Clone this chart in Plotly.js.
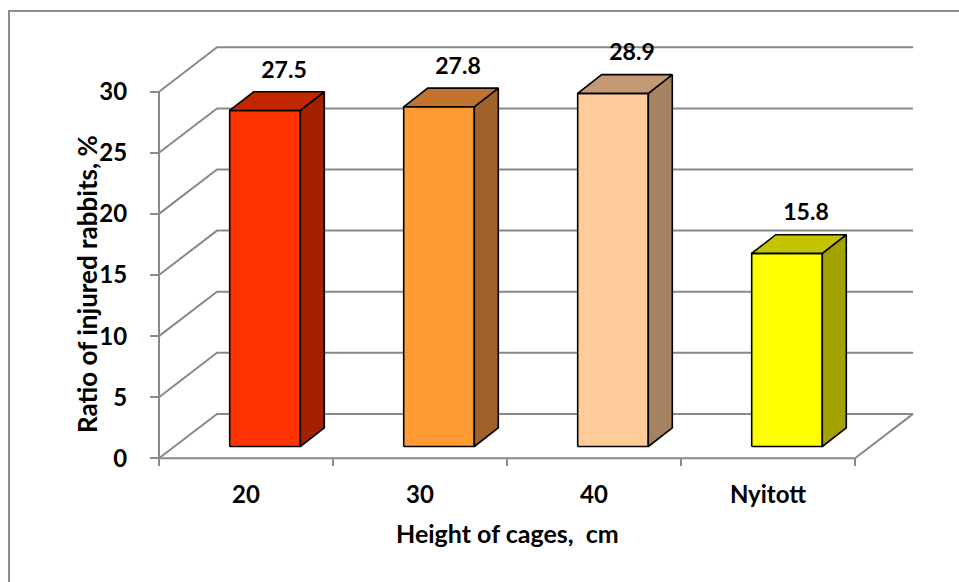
<!DOCTYPE html>
<html>
<head>
<meta charset="utf-8">
<script src="https://cdn.plot.ly/plotly-3.0.1.min.js"></script>
<style>
  html, body { margin: 0; padding: 0; background: #ffffff; }
  #chart { width: 959px; height: 582px; }
</style>
</head>
<body>
<div id="chart"></div>
<script>
// ---- data ----
const categories = ['20', '30', '40', 'Nyitott'];
const injuredPct = [27.5, 27.8, 28.9, 15.8];
const yTickValues = [0, 5, 10, 15, 20, 25, 30];

// ---- colours per bar: front, top, side ----
const frontColors = ['#FF3300', '#FF9933', '#FFCC99', '#FFFF00'];
const topColors   = ['#C22800', '#C27330', '#C49A74', '#C4C400'];
const sideColors  = ['#A32000', '#A1622A', '#A58262', '#A3A300'];

// ---- page / projection geometry ----
const W = 959, H = 582;
const ORIGIN_PX = 159;      // pixel x of the front-left corner of the floor
const ORIGIN_PY = 458.3;    // pixel y of value 0 on the front plane
const PX_PER_CAT = 174;     // pixels per category slot
const PX_PER_UNIT = 12.22;  // pixels per percentage point

// oblique depth of the walls and of the columns, in axis units
const WALL_DX = 58 / PX_PER_CAT,  WALL_DY = 44.4 / PX_PER_UNIT;
const BAR_HW  = 35.3 / PX_PER_CAT;
const BAR_OX  = 19 / PX_PER_CAT,  BAR_OY  = 11.8 / PX_PER_UNIT;
const BAR_DX  = 24 / PX_PER_CAT,  BAR_DY  = 18.7 / PX_PER_UNIT;
const LABEL_DX = 38 / PX_PER_CAT, LABEL_DY = BAR_OY + BAR_DY + 20 / PX_PER_UNIT;

const xRange = [-0.5 - ORIGIN_PX / PX_PER_CAT, -0.5 + (W - ORIGIN_PX) / PX_PER_CAT];
const yRange = [-(H - ORIGIN_PY) / PX_PER_UNIT, ORIGIN_PY / PX_PER_UNIT];

const n = categories.length;
const left = -0.5, right = n - 0.5;
const yMax = yTickValues[yTickValues.length - 1];

const GRID = '#898989';
const FONT = 'Lato, "Open Sans", sans-serif';

const traces = [];

// back and side wall gridlines
(function () {
  const gx = [], gy = [];
  yTickValues.forEach(v => {
    gx.push(left, left + WALL_DX, right + WALL_DX, null);
    gy.push(v, v + WALL_DY, v + WALL_DY, null);
  });
  traces.push({ type: 'scatter', mode: 'lines', x: gx, y: gy,
    line: { color: GRID, width: 2 }, hoverinfo: 'skip', showlegend: false });
})();

// floor front edge + right edge, and the vertical value axis
traces.push({ type: 'scatter', mode: 'lines',
  x: [left, right, right + WALL_DX], y: [0, 0, WALL_DY],
  line: { color: GRID, width: 2 }, hoverinfo: 'skip', showlegend: false });
traces.push({ type: 'scatter', mode: 'lines',
  x: [left, left], y: [0, yMax],
  line: { color: GRID, width: 2 }, hoverinfo: 'skip', showlegend: false });

// one face of a column as a filled polygon
function face(xs, ys, color) {
  return { type: 'scatter', mode: 'lines', x: xs.concat([xs[0]]), y: ys.concat([ys[0]]),
    fill: 'toself', fillcolor: color, line: { color: '#000000', width: 1.6 },
    hoverinfo: 'skip', showlegend: false };
}

injuredPct.forEach((v, i) => {
  const x0 = i + BAR_OX - BAR_HW, x1 = i + BAR_OX + BAR_HW;
  const yb = BAR_OY, yt = BAR_OY + v;
  traces.push(face([x0, x1, x1, x0], [yb, yb, yt, yt], frontColors[i]));
  traces.push(face([x1, x1 + BAR_DX, x1 + BAR_DX, x1], [yb, yb + BAR_DY, yt + BAR_DY, yt], sideColors[i]));
  traces.push(face([x0, x1, x1 + BAR_DX, x0 + BAR_DX], [yt, yt, yt + BAR_DY, yt + BAR_DY], topColors[i]));
});

// value labels above each column
traces.push({ type: 'scatter', mode: 'text',
  x: injuredPct.map((v, i) => i + LABEL_DX),
  y: injuredPct.map(v => v + LABEL_DY),
  text: injuredPct.map(v => v.toFixed(1)),
  textposition: 'middle center',
  textfont: { family: FONT, size: 23, weight: 700, color: '#000000' },
  cliponaxis: false, hoverinfo: 'skip', showlegend: false });

const layout = {
  width: W, height: H,
  margin: { l: 0, r: 0, t: 0, b: 0, pad: 0 },
  paper_bgcolor: '#ffffff', plot_bgcolor: 'rgba(0,0,0,0)',
  showlegend: false,
  xaxis: {
    range: xRange, domain: [0, 1], anchor: 'free', position: (H - ORIGIN_PY) / H,
    tickmode: 'array', tickvals: categories.map((c, i) => i), ticktext: categories,
    ticks: '', ticklabelstandoff: 20,
    tickfont: { family: FONT, size: 24, weight: 700, color: '#000000' },
    minor: { tickmode: 'array', tickvals: categories.map((c, i) => i - 0.5).concat([right]),
             ticks: 'outside', ticklen: 7, tickwidth: 2, tickcolor: GRID, showgrid: false },
    showline: false, showgrid: false, zeroline: false, fixedrange: true
  },
  yaxis: {
    range: yRange, domain: [0, 1], anchor: 'free', position: ORIGIN_PX / W,
    tickmode: 'array', tickvals: yTickValues,
    ticks: 'outside', ticklen: 9, tickwidth: 2, tickcolor: GRID, ticklabelstandoff: 18,
    tickfont: { family: FONT, size: 24, weight: 700, color: '#000000' },
    showline: false, showgrid: false, zeroline: false, fixedrange: true
  },
  annotations: [
    { text: 'Ratio of injured rabbits, %', xref: 'paper', yref: 'paper',
      x: 87 / W, y: 1 - 284 / H, textangle: -90, showarrow: false,
      xanchor: 'center', yanchor: 'middle',
      font: { family: FONT, size: 26, weight: 700, color: '#000000' } },
    { text: 'Height of cages,  cm', xref: 'paper', yref: 'paper',
      x: 507 / W, y: 1 - 533 / H, showarrow: false,
      xanchor: 'center', yanchor: 'middle',
      font: { family: FONT, size: 25, weight: 700, color: '#000000' } }
  ],
  shapes: [
    { type: 'path', xref: 'paper', yref: 'paper',
      path: 'M ' + (9 / W) + ',0 L ' + (9 / W) + ',' + (1 - 11 / H) + ' L 1,' + (1 - 11 / H),
      line: { color: '#8C8C8C', width: 2 } }
  ]
};

Plotly.newPlot('chart', traces, layout, { displayModeBar: false, staticPlot: true });
</script>
</body>
</html>
